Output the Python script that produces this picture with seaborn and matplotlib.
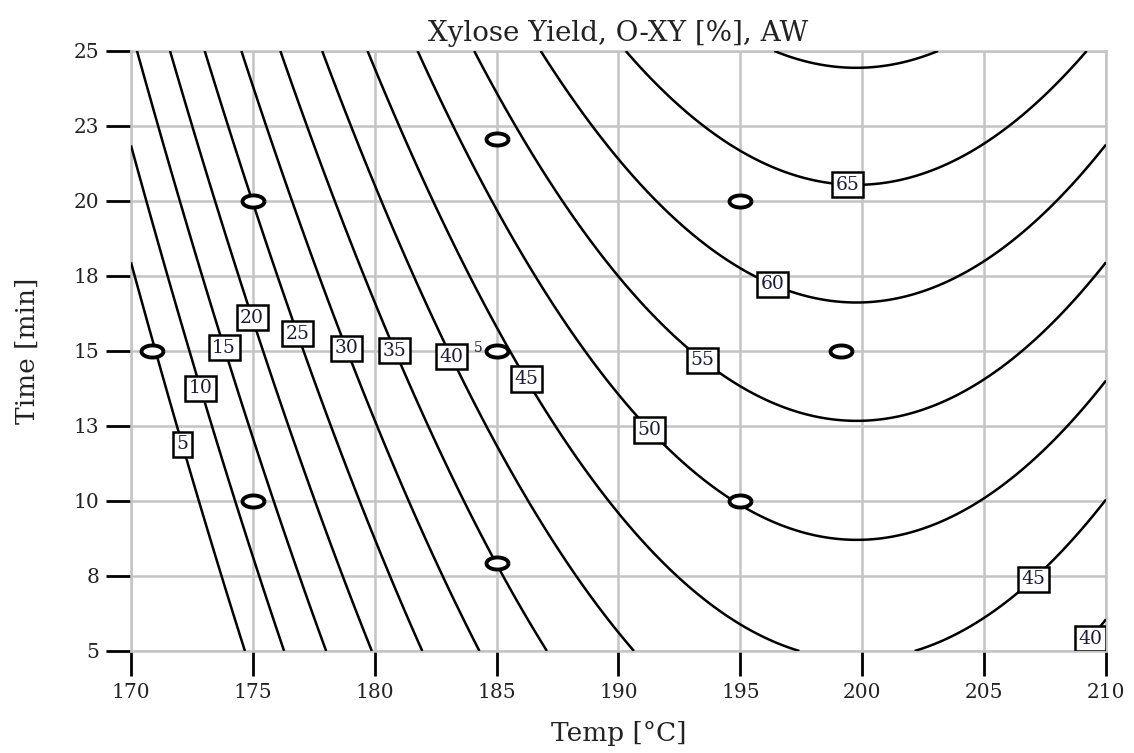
import numpy as np
import seaborn as sns
import matplotlib.pyplot as plt

# contour crossings: temperature, time, contour level
contour_temp = [174.68, 176.28, 177.96, 179.9, 181.96, 184.3, 187.05, 190.62, 197.6, 202.05, 208.9,
                170.16, 171.67, 173.04, 174.54, 176.1, 177.8, 179.7, 181.75, 184.1, 186.85, 190.27, 196.3, 203.05, 209.2,
                170.0, 170.0,
                210.0, 210.0, 210.0, 210.0, 210.0,
                199.8, 199.8, 199.8, 199.8, 199.8]
contour_time = [5, 5, 5, 5, 5, 5, 5, 5, 5, 5, 5,
                25, 25, 25, 25, 25, 25, 25, 25, 25, 25, 25, 25, 25, 25,
                18.0, 21.97,
                6.06, 10.03, 13.98, 17.93, 21.87,
                24.53, 20.53, 16.59, 12.68, 8.68]
contour_level = [5, 10, 15, 20, 25, 30, 35, 40, 45, 45, 40,
                 15, 20, 25, 30, 35, 40, 45, 50, 55, 60, 65, 70, 70, 65,
                 5, 10,
                 40, 45, 50, 55, 60,
                 70, 65, 60, 55, 50]

# design points (central composite design)
design_temp = [170.86, 175, 175, 185, 185, 185, 195, 195, 199.14]
design_time = [15, 10, 20, 7.93, 15, 22.07, 10, 20, 15]

levels = list(range(5, 75, 5))
label_temp = [172.2, 172.97, 173.93, 175.09, 177.0, 178.98, 180.97, 183.3, 186.37, 191.43, 193.62, 196.46, 199.43, 206.75, 209.07]
label_time = [11.92, 13.79, 15.14, 16.14, 15.62, 15.14, 15.06, 14.87, 14.14, 12.48, 14.87, 17.5, 20.92, 7.64, 5.61]

xticks = [170, 175, 180, 185, 190, 195, 200, 205, 210]
yticks = [5, 7.5, 10, 12.5, 15, 17.5, 20, 22.5, 25]
ytick_labels = ['5', '8', '10', '13', '15', '18', '20', '23', '25']

# quadratic response surface fitted to the read crossings
def design(T, t):
    X = (np.asarray(T) - 185) / 10
    Y = (np.asarray(t) - 15) / 5
    return np.column_stack([np.ones_like(X), X, Y, X**2, Y**2, X * Y])

coef, *_ = np.linalg.lstsq(design(contour_temp, contour_time), np.array(contour_level, float), rcond=None)

tg = np.linspace(170, 210, 401)
mg = np.linspace(5, 25, 401)
TT, MM = np.meshgrid(tg, mg)
Z = (design(TT.ravel(), MM.ravel()) @ coef).reshape(TT.shape)

sns.set_theme(style='whitegrid')
plt.rcParams['font.family'] = ['DejaVu Serif']

fig, ax = plt.subplots(figsize=(11.34, 7.53), dpi=100)
fig.subplots_adjust(left=0.1155, right=0.9753, top=0.9323, bottom=0.1355)

cs = ax.contour(TT, MM, Z, levels=levels, colors='black', linewidths=1.8, zorder=3)
texts = ax.clabel(cs, inline=False, fmt='%d', fontsize=13.5,
                  manual=list(zip(label_temp, label_time)))
for tx in texts:
    tx.set_rotation(0)
    tx.set_color('#1c1c3a')
    tx.set_zorder(6)
    tx.set_bbox(dict(facecolor='white', edgecolor='black', linewidth=1.8, pad=2.6))

ang = np.linspace(0, 2 * np.pi, 60)
ellipse = list(zip(np.cos(ang), 0.55 * np.sin(ang)))
sns.scatterplot(x=design_temp, y=design_time, marker=ellipse, s=250,
                facecolor='white', edgecolor='black', linewidth=2.8, zorder=7, ax=ax)
ax.text(184.25, 15.1, '5', fontsize=10, color='#1c1c3a', ha='center', va='center', zorder=7)

ax.set_xlim(170, 210)
ax.set_ylim(5, 25)
ax.set_xticks(xticks)
ax.set_yticks(yticks)
ax.set_yticklabels(ytick_labels)
ax.grid(True, color='#c4c4c4', linewidth=1.8)
ax.set_axisbelow(True)
for sp in ax.spines.values():
    sp.set_color('#c4c4c4')
    sp.set_linewidth(1.8)

ax.tick_params(axis='both', bottom=True, left=True, length=18, width=2, color='black',
               labelcolor='#222222', pad=5)
for lab in ax.get_xticklabels() + ax.get_yticklabels():
    lab.set_fontsize(14.5)
ax.set_title('Xylose Yield, O-XY [%], AW', fontsize=20, color='#222222', pad=7)
ax.set_xlabel('Temp [°C]', fontsize=19, color='#222222', labelpad=14)
ax.set_ylabel('Time [min]', fontsize=19, color='#222222', labelpad=24)

plt.savefig('out.png', dpi=100)
